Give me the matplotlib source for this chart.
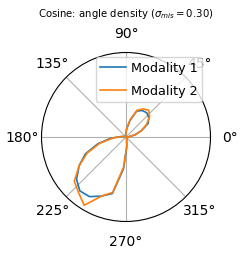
import numpy as np
import matplotlib
matplotlib.use('Agg')
import matplotlib.pyplot as plt

# 40 angle bins of 9 degrees, centres in degrees
bin_centres_deg = [4.5 + 9 * k for k in range(40)]

density_mod1 = [0.014, 0.043, 0.080, 0.123, 0.142, 0.151, 0.147, 0.133, 0.080, 0.038,
                0.014, 0.007, 0.005, 0.005, 0.005, 0.005, 0.005, 0.007, 0.010, 0.024,
                0.071, 0.137, 0.208, 0.260, 0.308, 0.336, 0.331, 0.303, 0.275, 0.151,
                0.047, 0.014, 0.007, 0.005, 0.005, 0.005, 0.005, 0.005, 0.005, 0.007]

density_mod2 = [0.014, 0.047, 0.080, 0.114, 0.147, 0.166, 0.156, 0.137, 0.085, 0.038,
                0.014, 0.007, 0.005, 0.005, 0.005, 0.005, 0.005, 0.007, 0.010, 0.024,
                0.062, 0.128, 0.199, 0.260, 0.322, 0.346, 0.379, 0.303, 0.270, 0.142,
                0.043, 0.014, 0.007, 0.005, 0.005, 0.005, 0.005, 0.005, 0.005, 0.007]

labels = ['Modality 1', 'Modality 2']
sigma_mis = 0.30


def closed(theta, r):
    return np.append(theta, theta[0]), np.append(r, r[0])


fig = plt.figure(figsize=(2.44, 2.55), dpi=100)
ax = fig.add_axes([0.1701, 0.1275, 0.6926, 0.6627], projection='polar')

theta = np.deg2rad(bin_centres_deg)
for dens, label in zip([density_mod1, density_mod2], labels):
    t, r = closed(theta, np.array(dens))
    ax.plot(t, r, label=label, lw=1.2)

ax.set_ylim(0, 0.4)
ax.set_yticks([])
ax.legend(loc='upper right', fontsize=9.2, borderaxespad=0,
          handletextpad=0.4, borderpad=0.35, labelspacing=0.75,
          bbox_to_anchor=(202 / 244, 1 - 58 / 255),
          bbox_transform=fig.transFigure)

fig.text(0.514, 0.945, r'Cosine: angle density ($\sigma_{mis} = %.2f$)' % sigma_mis,
         ha='center', va='center', fontsize=7.3)

fig.savefig('out.png', dpi=100)
